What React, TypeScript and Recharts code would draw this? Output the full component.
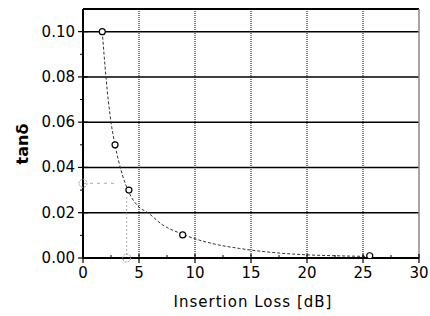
import React from 'react';
import {
  ComposedChart,
  Line,
  Scatter,
  XAxis,
  YAxis,
  ReferenceLine,
  ReferenceDot,
  Label,
} from 'recharts';

// measured points
const pointLoss = [1.72, 2.86, 4.1, 8.9, 25.6];
const pointTan = [0.1, 0.05, 0.03, 0.0102, 0.001];

// fitted curve
const curveLoss = [1.72, 2.05, 2.5, 2.86, 3.5, 4.1, 5, 5.8, 7, 8.9, 10, 11.8, 14, 15, 17.5, 20, 22.5, 25.5];
const curveTan = [0.1, 0.08, 0.06, 0.05, 0.037, 0.029, 0.0225, 0.02, 0.015, 0.0105, 0.0085, 0.0061, 0.0042, 0.0035, 0.0022, 0.0014, 0.001, 0.0007];

const xTicks = [0, 2.5, 5, 7.5, 10, 12.5, 15, 17.5, 20, 22.5, 25, 27.5, 30];
const yTicks = [0, 0.01, 0.02, 0.03, 0.04, 0.05, 0.06, 0.07, 0.08, 0.09, 0.1];
const xMajor = [0, 5, 10, 15, 20, 25, 30];
const yMajor = [0, 0.02, 0.04, 0.06, 0.08, 0.1];
const xGrid = [5, 10, 15, 20, 25];
const yGrid = [0.02, 0.04, 0.06, 0.08, 0.1];

// grey read-off guide
const guideTan = 0.033;
const guideLoss = 3.9;

const points = pointLoss.map((x, i) => ({ x, y: pointTan[i] }));
const curve = curveLoss.map((x, i) => ({ x, y: curveTan[i] }));

const font = 'DejaVu Sans, Verdana, sans-serif';

const isMajor = (list: number[], v: number) => list.some((m) => Math.abs(m - v) < 1e-9);

const XTick = (props: any) => {
  const { x, y, payload } = props;
  const major = isMajor(xMajor, payload.value);
  return (
    <g>
      {major ? (
        <line x1={x} y1={y - 4} x2={x} y2={y + 5} stroke="#000" strokeWidth={1.2} />
      ) : (
        <line x1={x} y1={y - 3} x2={x} y2={y} stroke="#000" strokeWidth={1} />
      )}
      {major && (
        <text x={x} y={y + 20} textAnchor="middle" fill="#000" fontSize={15} fontFamily={font}>
          {payload.value}
        </text>
      )}
    </g>
  );
};

const YTick = (props: any) => {
  const { x, y, payload } = props;
  const major = isMajor(yMajor, payload.value);
  return (
    <g>
      {major ? (
        <line x1={x - 5} y1={y} x2={x + 5} y2={y} stroke="#000" strokeWidth={1.2} />
      ) : (
        <line x1={x - 3} y1={y} x2={x} y2={y} stroke="#000" strokeWidth={1} />
      )}
      {major && (
        <text x={x - 8} y={y + 5} textAnchor="end" fill="#000" fontSize={15} fontFamily={font}>
          {payload.value.toFixed(2)}
        </text>
      )}
    </g>
  );
};

const App: React.FC = () => {
  return (
    <div style={{ position: 'absolute', left: 0, top: 0, width: 430, height: 316, background: '#fff' }}>
      <ComposedChart width={430} height={316} margin={{ top: 9, right: 11, bottom: 0, left: 0 }}>
        <XAxis
          type="number"
          dataKey="x"
          domain={[0, 30]}
          ticks={xTicks}
          interval={0}
          allowDataOverflow
          height={58}
          stroke="#000"
          strokeWidth={2}
          tickLine={false}
          tickSize={0}
          tickMargin={0}
          tick={<XTick />}
        >
          <Label
            content={() => (
              <text
                x={253}
                y={307}
                textAnchor="middle"
                fill="#000"
                fontSize={15}
                letterSpacing={1}
                fontFamily={font}
              >
                Insertion Loss [dB]
              </text>
            )}
          />
        </XAxis>
        <YAxis
          type="number"
          dataKey="y"
          domain={[0, 0.11]}
          ticks={yTicks}
          interval={0}
          allowDataOverflow
          width={83}
          stroke="#000"
          strokeWidth={2}
          tickLine={false}
          tickSize={0}
          tickMargin={0}
          tick={<YTick />}
        >
          <Label
            content={() => (
              <text
                x={28}
                y={144}
                transform="rotate(-90 28 144)"
                textAnchor="middle"
                fill="#000"
                fontSize={16}
                fontWeight="bold"
                fontFamily={font}
              >
                tanδ
              </text>
            )}
          />
        </YAxis>
        {yGrid.map((v) => (
          <ReferenceLine key={'h' + v} y={v} stroke="#000" strokeWidth={1.5} />
        ))}
        {xGrid.map((v) => (
          <ReferenceLine key={'v' + v} x={v} stroke="#000" strokeWidth={1} strokeDasharray="1 1" />
        ))}
        <ReferenceLine y={0.11} stroke="#000" strokeWidth={2} />
        <ReferenceLine x={30} stroke="#888" strokeWidth={1.5} />
        <ReferenceLine
          segment={[{ x: 0, y: guideTan }, { x: 3.0, y: guideTan }]}
          stroke="#aaa"
          strokeDasharray="3 4"
        />
        <ReferenceLine
          segment={[{ x: guideLoss, y: 0.027 }, { x: guideLoss, y: 0 }]}
          stroke="#aaa"
          strokeDasharray="2 2"
        />
        <ReferenceDot x={0} y={guideTan} r={4} fill="none" stroke="#999" strokeDasharray="2 1" />
        <ReferenceDot x={guideLoss} y={0} r={4} fill="none" stroke="#999" strokeDasharray="2 1" />
        <Line
          data={curve}
          dataKey="y"
          type="monotone"
          stroke="#333"
          strokeWidth={1}
          strokeDasharray="3 2"
          dot={false}
          isAnimationActive={false}
        />
        <Scatter
          data={points}
          dataKey="y"
          fill="#fff"
          stroke="#000"
          strokeWidth={1.2}
          shape={(p: any) => <circle cx={p.cx} cy={p.cy} r={3} fill="#fff" stroke="#000" strokeWidth={1.2} />}
          isAnimationActive={false}
        />
      </ComposedChart>
    </div>
  );
};

export default App;
